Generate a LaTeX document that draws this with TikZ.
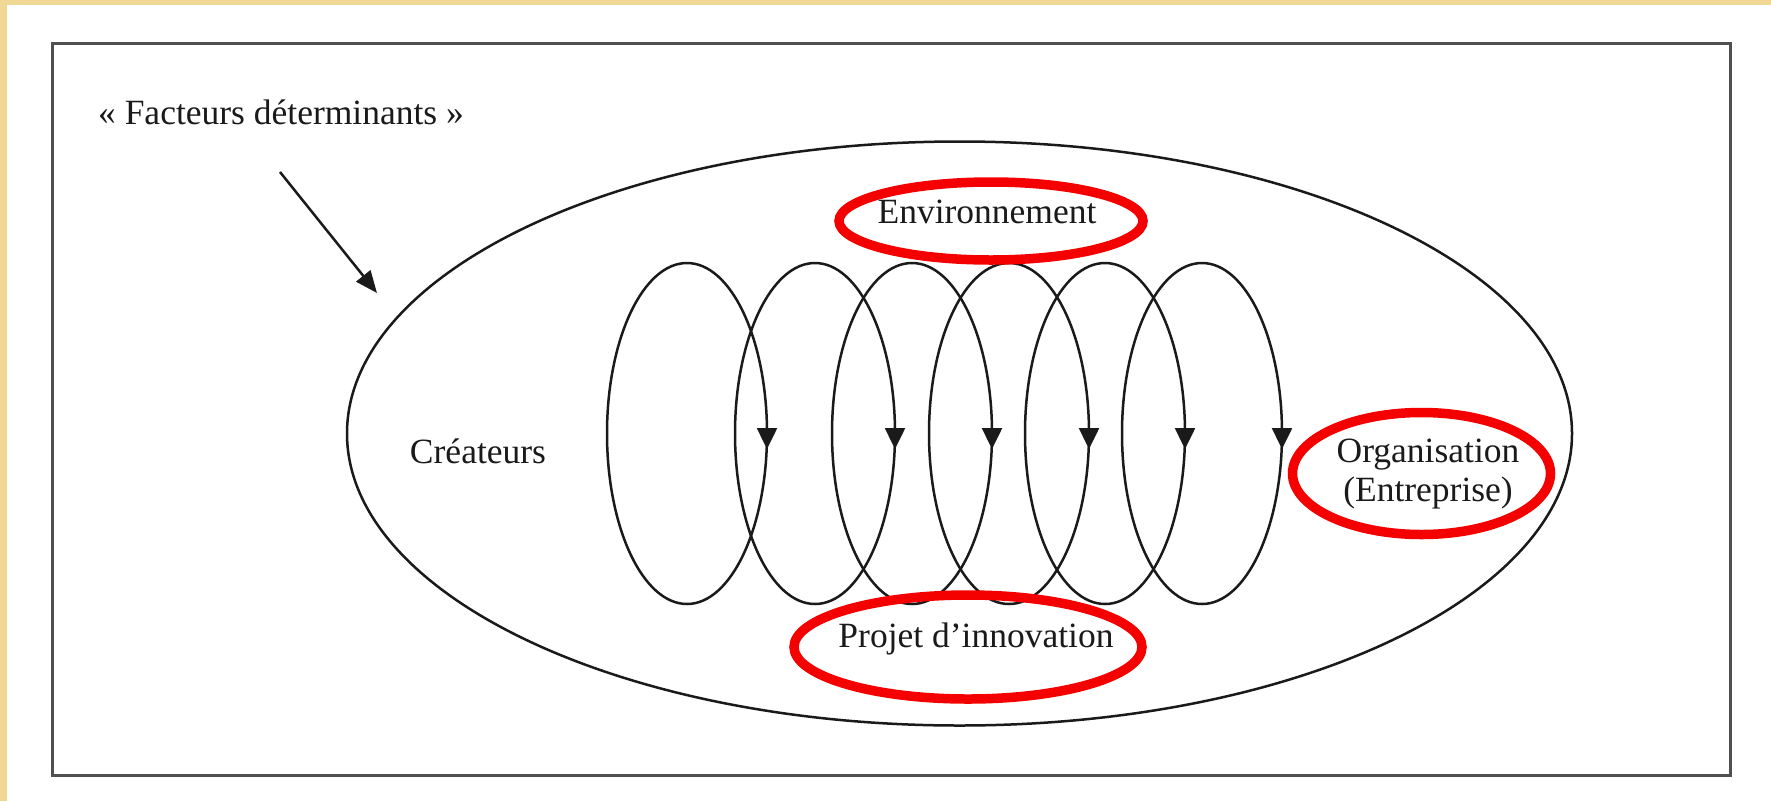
\documentclass[tikz,border=0pt]{standalone}
\usepackage{fontspec}
\setmainfont{Liberation Serif}
\usetikzlibrary{arrows.meta}
\definecolor{parchment}{HTML}{F0D894}
\definecolor{ink}{HTML}{1A1A1A}
\definecolor{framegray}{HTML}{505050}
\definecolor{ringred}{HTML}{F50000}
\begin{document}
\begin{tikzpicture}[x=1pt,y=-1pt,
  lbl/.style={font=\fontsize{35.5}{38.5}\selectfont, text=ink, inner sep=0pt},
  curve/.style={draw=ink, line width=2.5pt},
  ring/.style={draw=ringred, line width=9.5pt},
  pointer/.style={curve, -{Triangle[length=22pt,width=18pt]}},
  looptip/.style={curve, -{Triangle[length=21pt,width=20pt]}},
  panel/.style={draw=framegray, line width=3pt}
]
\useasboundingbox (0,0) rectangle (1771,801);
% paper edge and page
\fill[parchment] (0,0) rectangle (1771,801);
\fill[white] (7,5) rectangle (1771,801);
\draw[panel] (52,43) rectangle (1730,775);

% outer field of determining factors
\draw[curve] (959.5,433.5) ellipse [x radius=612.5, y radius=292];

% the six loops of the innovation spiral
\foreach \cx in {687,815,912,1009,1105,1202}{
  \draw[curve] (\cx,433.5) ellipse [x radius=80, y radius=170.5];
  \draw[looptip] (\cx+80,418) -- (\cx+80,449);
}

% labels
\node[lbl, anchor=base] (facteurs) at (281,124) {« Facteurs déterminants »};
\node[lbl, anchor=base] (createurs) at (478,463) {Créateurs};
\node[lbl, anchor=base] (environ) at (987,223) {Environnement};
\node[lbl, anchor=base] (projet) at (976,647) {Projet d’innovation};
\node[lbl, align=center] (orga) at (1428,474) {Organisation\\(Entreprise)};

% pointer toward the field
\coordinate (pstart) at (280,172);
\coordinate (ptip) at (377,293);
\draw[pointer] (pstart) -- (ptip);

% highlighted factors
\draw[ring] (991,221) ellipse [x radius=152, y radius=39];
\draw[ring] (968,647) ellipse [x radius=174, y radius=52];
\draw[ring] (1421.5,473.5) ellipse [x radius=129, y radius=61];
\end{tikzpicture}
\end{document}
